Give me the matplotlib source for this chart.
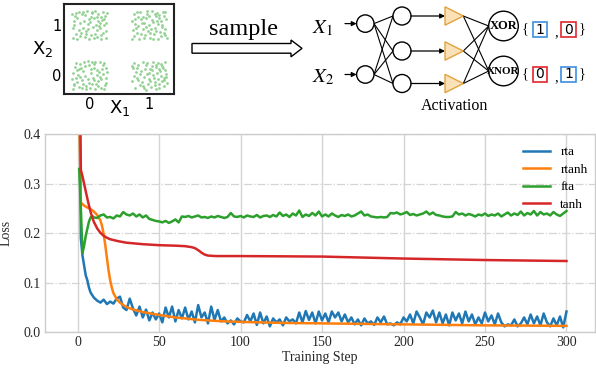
import numpy as np
import matplotlib
matplotlib.use("Agg")
import matplotlib.pyplot as plt
from matplotlib.patches import Circle, Polygon, Rectangle

plt.rcParams['font.family'] = ['Liberation Serif', 'DejaVu Serif']
plt.rcParams['mathtext.fontset'] = 'stix'

# ---------------- loss curves ----------------
series_names = ["rta", "rtanh", "fta", "tanh"]
series_colors = ["#1f77b4", "#ff7f0e", "#2ca02c", "#d62728"]
x_ticks = [0, 50, 100, 150, 200, 250, 300]
y_ticks = [0.0, 0.1, 0.2, 0.3, 0.4]

rta_steps = np.r_[1:11, 12:301:2]
rta = [0.60, 0.19, 0.155, 0.135, 0.115, 0.105, 0.09, 0.08, 0.075, 0.07,
       0.064, 0.060, 0.066, 0.057, 0.062, 0.058, 0.068, 0.072, 0.050, 0.045,
       0.068, 0.048, 0.034, 0.052, 0.030, 0.046, 0.024, 0.040, 0.026, 0.038,
       0.020, 0.050, 0.030, 0.052, 0.022, 0.045, 0.028, 0.050, 0.026, 0.042,
       0.020, 0.055, 0.030, 0.040, 0.018, 0.052, 0.025, 0.045, 0.022, 0.030,
       0.018, 0.024, 0.016, 0.028, 0.022, 0.020, 0.035, 0.022, 0.038, 0.015,
       0.040, 0.018, 0.032, 0.012, 0.028, 0.020, 0.026, 0.014, 0.030, 0.022,
       0.026, 0.018, 0.040, 0.020, 0.043, 0.025, 0.040, 0.018, 0.042, 0.024,
       0.038, 0.020, 0.042, 0.030, 0.040, 0.022, 0.036, 0.020, 0.030, 0.016,
       0.026, 0.014, 0.028, 0.018, 0.022, 0.015, 0.030, 0.020, 0.032, 0.016,
       0.018, 0.014, 0.020, 0.016, 0.030, 0.022, 0.036, 0.018, 0.042, 0.030,
       0.016, 0.040, 0.030, 0.044, 0.020, 0.040, 0.018, 0.036, 0.014, 0.040,
       0.024, 0.038, 0.018, 0.042, 0.022, 0.036, 0.016, 0.030, 0.018, 0.040,
       0.022, 0.034, 0.016, 0.038, 0.020, 0.012, 0.016, 0.014, 0.026, 0.012,
       0.018, 0.030, 0.016, 0.036, 0.018, 0.032, 0.014, 0.038, 0.020, 0.012,
       0.028, 0.014, 0.032, 0.010, 0.042]

rtanh_steps = [1, 2, 4, 6, 8, 10, 12, 14, 15, 16, 17, 18, 19, 20, 21, 22, 24, 26,
               28, 30, 34, 40, 50, 60, 75, 90, 100, 125, 150, 200, 250, 300]
rtanh = [0.45, 0.262, 0.256, 0.252, 0.249, 0.244, 0.237, 0.226, 0.215, 0.198,
         0.176, 0.150, 0.125, 0.105, 0.090, 0.079, 0.067, 0.060, 0.055, 0.051,
         0.046, 0.041, 0.035, 0.030, 0.025, 0.022, 0.021, 0.019, 0.018, 0.016,
         0.014, 0.013]

fta_steps = np.r_[1:11, 12:301:2]
fta = [0.33, 0.25, 0.16, 0.175, 0.195, 0.21, 0.224, 0.232, 0.235, 0.232,
       0.231, 0.236, 0.238, 0.232, 0.233, 0.230, 0.236, 0.234, 0.243, 0.238,
       0.236, 0.240, 0.234, 0.238, 0.232, 0.236, 0.229, 0.227, 0.225, 0.224,
       0.222, 0.225, 0.221, 0.224, 0.228, 0.222, 0.234, 0.233, 0.235, 0.232,
       0.234, 0.236, 0.232, 0.233, 0.231, 0.234, 0.232, 0.235, 0.233, 0.231,
       0.233, 0.241, 0.234, 0.233, 0.235, 0.232, 0.236, 0.234, 0.233, 0.237,
       0.232, 0.235, 0.236, 0.233, 0.237, 0.234, 0.242, 0.235, 0.238, 0.233,
       0.240, 0.236, 0.246, 0.233, 0.238, 0.235, 0.241, 0.236, 0.244, 0.234,
       0.238, 0.234, 0.240, 0.236, 0.233, 0.237, 0.235, 0.238, 0.234, 0.236,
       0.240, 0.244, 0.236, 0.238, 0.234, 0.233, 0.232, 0.233, 0.232, 0.233,
       0.241, 0.240, 0.242, 0.238, 0.240, 0.243, 0.237, 0.239, 0.236, 0.238,
       0.240, 0.244, 0.238, 0.242, 0.237, 0.236, 0.234, 0.233, 0.233, 0.234,
       0.243, 0.238, 0.240, 0.236, 0.239, 0.237, 0.234, 0.238, 0.236, 0.240,
       0.235, 0.238, 0.236, 0.240, 0.234, 0.238, 0.242, 0.236, 0.240, 0.237,
       0.244, 0.236, 0.241, 0.238, 0.245, 0.236, 0.243, 0.238, 0.240, 0.236,
       0.243, 0.238, 0.235, 0.240, 0.245]

tanh_steps = [1, 2, 3, 4, 5, 6, 7, 8, 9, 10, 12, 14, 16, 18, 20, 25, 30, 40, 50,
              60, 66, 70, 72, 74, 76, 78, 80, 85, 100, 150, 200, 250, 300]
tanh = [0.60, 0.328, 0.315, 0.300, 0.285, 0.270, 0.256, 0.243, 0.232, 0.223,
        0.210, 0.201, 0.195, 0.191, 0.188, 0.184, 0.181, 0.178, 0.176, 0.175,
        0.174, 0.172, 0.170, 0.166, 0.161, 0.157, 0.155, 0.154, 0.154, 0.153,
        0.149, 0.146, 0.144]

# ---------------- XOR sample cloud (offsets in hundredths) ----------------
cluster_centers = [(0, 0), (1, 0), (0, 1), (1, 1)]
cluster_offsets = [
    [(-25,-20),(-18,12),(-5,-27),(8,22),(20,-8),(27,15),(-28,5),(-12,-10),(3,4),(15,-22),
     (-22,25),(-8,18),(12,10),(24,-27),(-15,-3),(0,-15),(18,27),(-27,-28),(6,-5),(28,-15),
     (-2,28),(-20,-13),(10,-28),(22,3),(-10,8),(-24,16),(14,-12),(-6,-22),(25,24),(2,13),
     (-16,22),(-29,-8),(17,-3),(-3,-7),(9,26),(26,-20),(-13,-25),(21,12),(-19,1),(5,-18),
     (-9,27),(13,0),(-26,-18),(29,6),(-1,20),(11,-17),(-21,10),(7,15),(-14,14),(19,-25),
     (-7,-1),(23,20),(-23,-5),(4,27),(16,6),(-11,-17),(1,-26),(27,-5),(-17,-24),(8,-10)],
    [(-20,-5),(-27,14),(-10,-22),(5,10),(17,-18),(28,3),(-3,25),(12,-27),(22,18),(-15,2),
     (0,-8),(-24,-26),(9,-14),(25,-10),(-7,12),(14,24),(-18,20),(20,-2),(3,-24),(-28,-12),
     (27,26),(-12,-14),(7,0),(18,8),(-5,-29),(-22,6),(11,16),(24,-22),(-1,4),(15,-8),
     (-26,24),(-9,-4),(4,19),(29,-16),(-16,-19),(19,22),(-2,-17),(10,-20),(26,10),(-20,15),
     (6,27),(-13,9),(21,-12),(1,12),(-25,-2),(13,4),(-6,21),(16,-26),(28,-4),(-11,26),
     (8,-6),(23,14),(-19,-9),(-4,3),(17,12),(2,-12),(-29,19),(12,20),(24,-6),(-8,-25)],
    [(-24,18),(-10,26),(3,-20),(18,5),(27,-25),(-28,-6),(-14,-15),(8,14),(22,27),(-3,3),
     (12,-10),(-20,-27),(25,12),(-7,20),(0,-28),(15,22),(-26,8),(6,-4),(28,-12),(-17,27),
     (-11,-5),(20,-20),(-1,12),(10,28),(-23,-18),(24,0),(-5,-12),(14,9),(-29,23),(4,24),
     (19,-28),(-15,4),(9,-17),(26,18),(-8,-24),(-21,14),(1,6),(17,-6),(-27,-26),(12,17),
     (-4,28),(23,-15),(-18,-10),(7,-26),(29,24),(-12,22),(16,-1),(-25,0),(3,16),(21,10),
     (-9,8),(11,0),(-2,-8),(27,4),(-16,-22),(5,27),(-22,25),(13,-23),(-6,-17),(19,16)],
    [(-26,22),(-12,5),(2,-25),(17,20),(26,-8),(-20,-15),(-5,14),(10,-5),(23,26),(-28,-28),
     (-15,26),(5,10),(20,-22),(-2,-12),(13,25),(-24,2),(28,12),(-9,-26),(8,-18),(-18,16),
     (15,3),(-4,22),(24,-15),(-27,-10),(0,0),(19,9),(-11,-8),(11,18),(-21,27),(27,27),
     (-7,-20),(4,28),(21,-4),(-25,-21),(14,-27),(-14,12),(7,6),(29,-25),(-1,19),(-19,-2),
     (12,-12),(25,19),(-8,4),(3,-8),(-23,12),(18,-14),(-13,-18),(9,23),(-29,8),(22,1),
     (-3,28),(16,14),(-17,-27),(6,-28),(-10,17),(27,-19),(1,-16),(-22,-6),(13,8),(-6,-3)],
]

# ---------------- figure ----------------
W, H = 596, 368
fig = plt.figure(figsize=(W / 100, H / 100), dpi=100)


def fbox(x0, y0, x1, y1):
    """pixel box (top-left origin) -> figure fraction rect"""
    return [x0 / W, 1 - y1 / H, (x1 - x0) / W, (y1 - y0) / H]


# ---- main loss chart ----
ax = fig.add_axes(fbox(45, 134.3, 595, 332.3))
for steps, vals, name, c in zip([rta_steps, rtanh_steps, fta_steps, tanh_steps],
                                [rta, rtanh, fta, tanh], series_names, series_colors):
    ax.plot(steps, vals, color=c, lw=1.8, label=name, solid_joinstyle='round')
ax.set_xlim(-20, 317.5)
ax.set_ylim(0, 0.4)
ax.set_xticks(x_ticks)
ax.set_yticks(y_ticks)
ax.set_yticklabels([f"{v:.1f}" for v in y_ticks])
ax.grid(axis='x', color='#d4d4d4', lw=1.0, ls='-')
ax.grid(axis='y', color='#d4d4d4', lw=0.9, ls='-.')
ax.set_axisbelow(True)
for s in ax.spines.values():
    s.set_color('#cccccc')
    s.set_linewidth(1.0)
ax.tick_params(length=0, labelsize=10, colors='#262626', pad=3)
ax.set_xlabel("Training Step", fontsize=10, color='#262626')
ax.set_ylabel("Loss", fontsize=10, color='#262626')
ax.xaxis.set_label_coords(0.5, -0.095)
ax.yaxis.set_label_coords(-0.059, 0.5)
ax.legend(loc='upper right', bbox_to_anchor=(1.008, 1.0), frameon=False,
          fontsize=9.5, handlelength=2.0, labelspacing=0.4, borderaxespad=0.5)

# ---- scatter panel ----
sx = fig.add_axes(fbox(64.3, 3.7, 174.3, 94))
for (cx, cy), offs in zip(cluster_centers, cluster_offsets):
    pts = np.array(offs) / 100.0
    sx.scatter(cx + pts[:, 0], cy + pts[:, 1], s=4, color='#93d293', lw=0)
sx.set_xlim(-0.42, 1.42)
sx.set_ylim(-0.38, 1.43)
sx.set_xticks([0, 1])
sx.set_yticks([0, 1])
sx.tick_params(length=0, labelsize=10.5, pad=2)
for lab in sx.get_xticklabels() + sx.get_yticklabels():
    lab.set_fontfamily('DejaVu Sans')
for s in sx.spines.values():
    s.set_color('#222222')
    s.set_linewidth(1.5)
sx.set_xlabel(r"$\mathrm{X_1}$", fontsize=13, math_fontfamily='dejavusans')
sx.set_ylabel(r"$\mathrm{X_2}$", fontsize=13, math_fontfamily='dejavusans',
              rotation=0, ha='center', va='center')
sx.xaxis.set_label_coords(0.5, -0.04)
sx.yaxis.set_label_coords(-0.2, 0.5)

# ---- diagram overlay (pixel coordinates) ----
ov = fig.add_axes([0, 0, 1, 1])
ov.set_xlim(0, W)
ov.set_ylim(H, 0)
ov.axis('off')

# hollow "sample" arrow
ov.add_patch(Polygon([(192, 43.5), (291, 43.5), (291, 40), (302, 48.4), (291, 56.8),
                      (291, 53.2), (192, 53.2)], closed=True, fc='white', ec='black', lw=1.0))
ov.text(244, 35, "sample", fontsize=17.5, ha='center', va='baseline')

# inputs
in_y = [23.6, 74.5]
in_x, r_in = 365.3, 8.7
hid_y = [16.0, 51.0, 83.5]
hid_x, r_hid = 402.0, 9.0
tri_x0, tri_x1, tri_h = 445.0, 463.3, 9.2
out_y = [26.0, 71.0]
out_x, r_out = 503.5, 14.8

ov.text(311.5, 33.3, r"$X_1$", fontsize=15, ha='left', va='baseline')
ov.text(311.5, 82.7, r"$X_2$", fontsize=15, ha='left', va='baseline')
for y in in_y:
    ov.annotate("", xy=(in_x - r_in, y), xytext=(345, y),
                arrowprops=dict(arrowstyle='-|>', lw=0.9, color='black',
                                mutation_scale=7, shrinkA=0, shrinkB=0))
    ov.add_patch(Circle((in_x, y), r_in, fc='white', ec='black', lw=1.0, zorder=3))
for yi in in_y:
    for yh in hid_y:
        ov.plot([in_x + r_in, hid_x - r_hid], [yi, yh], color='black', lw=0.8, zorder=2)
for yh in hid_y:
    ov.add_patch(Circle((hid_x, yh), r_hid, fc='white', ec='black', lw=1.0, zorder=3))
    ov.annotate("", xy=(tri_x0, yh), xytext=(hid_x + r_hid, yh),
                arrowprops=dict(arrowstyle='-|>', lw=0.9, color='black',
                                mutation_scale=7, shrinkA=0, shrinkB=0))
    ov.add_patch(Polygon([(tri_x0, yh - tri_h), (tri_x1, yh), (tri_x0, yh + tri_h)],
                         closed=True, fc='#fbe1b8', ec='#e2a23c', lw=1.0, zorder=3))
    for yo in out_y:
        ov.plot([tri_x1, out_x - r_out], [yh, yo], color='black', lw=0.8, zorder=2)
for yo, lbl, fs in zip(out_y, ["XOR", "XNOR"], [9, 8]):
    ov.add_patch(Circle((out_x, yo), r_out, fc='white', ec='black', lw=1.0, zorder=3))
    ov.text(out_x, yo, lbl, fontsize=fs, fontweight='bold', ha='center', va='center', zorder=4)

ov.text(455, 110, "Activation", fontsize=11.5, ha='center', va='baseline')

# output target boxes
row_y = [29.2, 74.2]
row_vals = [("1", "0"), ("0", "1")]
box_col = {"1": "#3d8fe0", "0": "#e0262c"}
for y, (a, b) in zip(row_y, row_vals):
    ov.text(525, y, "{", fontsize=10.5, ha='center', va='center')
    ov.text(582, y, "}", fontsize=10.5, ha='center', va='center')
    ov.text(556.5, y + 3.5, ",", fontsize=10.5, ha='center', va='center')
    for x0, v in zip([532.7, 561.3], [a, b]):
        ov.add_patch(Rectangle((x0, y - 7.5), 14.2, 15, fill=False, ec=box_col[v], lw=1.2))
        ov.text(x0 + 7.1, y + 0.3, v, fontsize=10, family='DejaVu Sans',
                ha='center', va='center')

fig.savefig("out.png", dpi=100)
